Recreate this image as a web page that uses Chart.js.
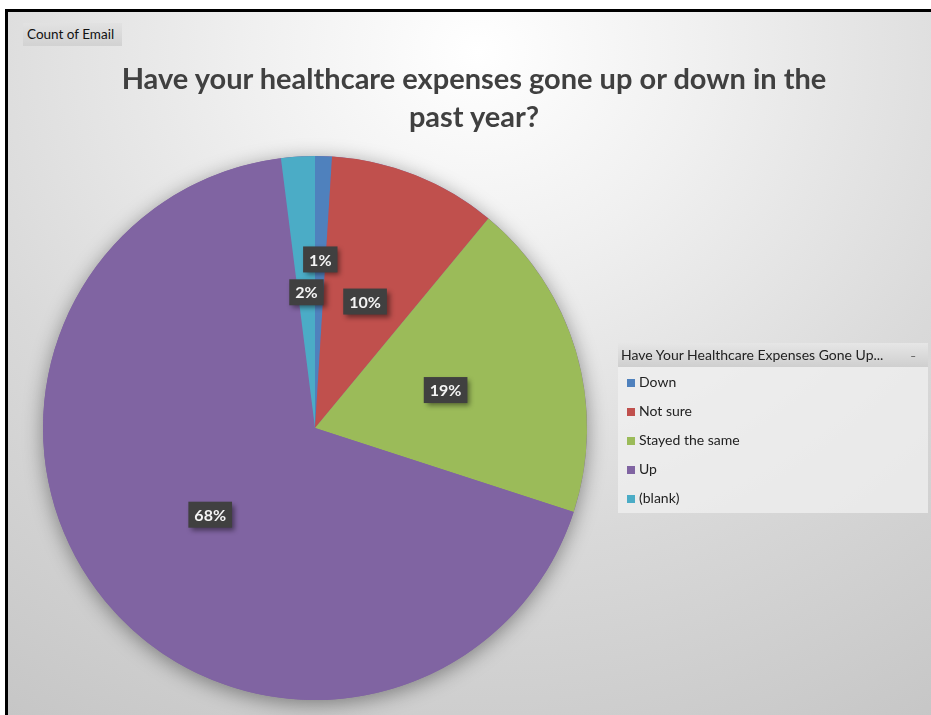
<!DOCTYPE html>
<html>
<head>
<meta charset="utf-8">
<script src="https://cdn.jsdelivr.net/npm/chart.js@4/dist/chart.umd.min.js"></script>
<style>
  html, body { margin: 0; padding: 0; background: #ffffff; }
  #stage {
    position: relative; width: 931px; height: 715px; overflow: hidden; background: #ffffff;
  }
  #frame {
    position: absolute; left: 5px; top: 9px; width: 940px; height: 720px;
    border-left: 3px solid #000; border-top: 3px solid #000;
    background: radial-gradient(ellipse 900px 820px at 470px 40px, #ffffff 0%, #f0f0f0 25%, #d9d9d9 60%, #c4c4c4 100%);
  }
  #chart { position: absolute; left: 0; top: 0; }
  #fieldBtn {
    position: absolute; left: 23px; top: 23px; width: 99px; height: 23px;
    background: linear-gradient(#e2e2e2, #d2d2d2);
    font: 13.5px "Lato", "Liberation Sans", sans-serif; color: #111;
    line-height: 23px; padding-left: 4px; box-sizing: border-box; white-space: nowrap;
  }
  #title {
    position: absolute; left: 24px; width: 900px; top: 59px; text-align: center;
    font: bold 29px "Lato", "Liberation Sans", sans-serif; color: #404040; line-height: 38px;
  }
  #legend {
    position: absolute; left: 618px; top: 343px; width: 310px; height: 170px;
    background: rgba(240,240,240,0.75);
    font: 14px "Lato", "Liberation Sans", sans-serif; color: #222;
  }
  #legend .head {
    height: 24px; line-height: 24px; padding-left: 3px;
    background: linear-gradient(#e6e6e6, #cfcfcf); position: relative; white-space: nowrap;
  }
  #legend .head .arrow { position: absolute; right: 12px; top: 0; font-size: 10px; color: #333; }
  #legend .item { position: absolute; left: 9px; height: 20px; line-height: 20px; white-space: nowrap; }
  #legend .sw { display: inline-block; width: 8px; height: 8px; margin-right: 4px; vertical-align: 0px; }
</style>
</head>
<body>
<div id="stage">
  <div id="frame"></div>
  <canvas id="chart" width="931" height="715"></canvas>
  <div id="fieldBtn">Count of Email</div>
  <div id="title">Have your healthcare expenses gone up or down in the<br>past year?</div>
  <div id="legend"><div class="head">Have Your Healthcare Expenses Gone Up...<span class="arrow">&#8211;</span></div></div>
</div>
<script>
// Survey answers (share of responses, %)
const categories = ['Down', 'Not sure', 'Stayed the same', 'Up', '(blank)'];
const shares = [1, 10, 19, 68, 2];
const sliceColors = ['#4F81BD', '#C0504D', '#9BBB59', '#8064A2', '#4BACC6'];

// Legend list under the field header
const legendEl = document.getElementById('legend');
categories.forEach((name, i) => {
  const row = document.createElement('div');
  row.className = 'item';
  row.style.top = (29 + i * 29) + 'px';
  row.innerHTML = '<span class="sw" style="background:' + sliceColors[i] + '"></span>' + name;
  legendEl.appendChild(row);
});

// Soft drop shadow underneath the whole pie
const pieShadow = {
  id: 'pieShadow',
  beforeDatasetsDraw(chart) {
    const arc = chart.getDatasetMeta(0).data[0];
    if (!arc) return;
    const { x, y, outerRadius } = arc.getProps(['x', 'y', 'outerRadius'], true);
    const ctx = chart.ctx;
    ctx.save();
    ctx.shadowColor = 'rgba(0,0,0,0.4)';
    ctx.shadowBlur = 20;
    ctx.shadowOffsetY = 4;
    ctx.fillStyle = '#8064A2';
    ctx.beginPath();
    ctx.arc(x, y, outerRadius, 0, Math.PI * 2);
    ctx.fill();
    ctx.restore();
  }
};

// Dark value tags inside each slice
const valueTags = {
  id: 'valueTags',
  afterDatasetsDraw(chart, args, opts) {
    const ctx = chart.ctx;
    const meta = chart.getDatasetMeta(0);
    const values = chart.data.datasets[0].data;
    meta.data.forEach((arc, i) => {
      const p = arc.getProps(['x', 'y', 'startAngle', 'endAngle', 'outerRadius'], true);
      const mid = (p.startAngle + p.endAngle) / 2;
      const r = p.outerRadius * opts.radius[i];
      const cx = p.x + Math.cos(mid) * r;
      const cy = p.y + Math.sin(mid) * r;
      const text = Math.round(values[i]) + '%';
      ctx.save();
      ctx.font = 'bold 16px "Lato", "Liberation Sans", sans-serif';
      const w = ctx.measureText(text).width + 12;
      const h = 26;
      ctx.shadowColor = 'rgba(0,0,0,0.45)';
      ctx.shadowBlur = 5;
      ctx.shadowOffsetX = 3;
      ctx.shadowOffsetY = 3;
      ctx.fillStyle = '#404040';
      ctx.fillRect(cx - w / 2, cy - h / 2, w, h);
      ctx.shadowColor = 'transparent';
      ctx.fillStyle = '#f4f4f4';
      ctx.textAlign = 'center';
      ctx.textBaseline = 'middle';
      ctx.fillText(text, cx, cy + 1);
      ctx.restore();
    });
  }
};

new Chart(document.getElementById('chart'), {
  type: 'pie',
  data: {
    labels: categories,
    datasets: [{
      data: shares,
      backgroundColor: sliceColors,
      borderWidth: 0
    }]
  },
  options: {
    responsive: false,
    animation: false,
    devicePixelRatio: 1,
    layout: { padding: { left: 43, top: 156, right: 344, bottom: 15 } },
    plugins: {
      legend: { display: false },
      tooltip: { enabled: false },
      title: { display: false },
      valueTags: { radius: [0.62, 0.5, 0.5, 0.5, 0.5] }
    }
  },
  plugins: [pieShadow, valueTags]
});
</script>
</body>
</html>
